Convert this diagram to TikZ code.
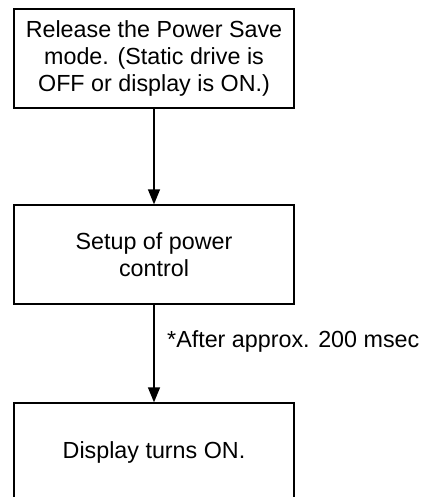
\documentclass[tikz,border=0pt]{standalone}
\usepackage{fontspec}
\setmainfont{Liberation Sans}
\usetikzlibrary{arrows.meta}
\begin{document}
\begin{tikzpicture}[x=1pt,y=1pt,
  box/.style={draw,line width=1.3pt,minimum width=280pt,minimum height=99pt,inner sep=0pt,align=center,font=\fontsize{23.3}{27}\selectfont},
  flow/.style={line width=1.3pt,-{Triangle[width=12pt,length=15pt]}},
  lbl/.style={font=\fontsize{23.3}{27}\selectfont,inner sep=0pt,anchor=base west}]
\useasboundingbox (0,0) rectangle (428,-497);
\clip (0,0) rectangle (428,-497);
\node[box] (a) at (154,-58.5) {Release the Power Save\\mode. (Static drive is\\OFF or display is ON.)};
\node[box] (b) at (154,-254.5) {Setup of power\\control};
\node[box] (c) at (154,-452.5) {Display turns ON.};
\draw[flow] (a) -- (b);
\draw[flow] (b) -- (c);
\node[lbl] (t) at (167,-347) {*After approx. 200 msec};
\end{tikzpicture}
\end{document}
